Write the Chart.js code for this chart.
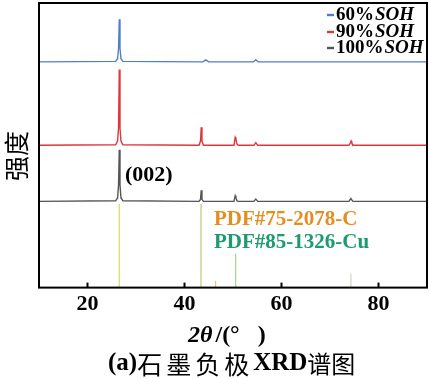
<!DOCTYPE html>
<html><head><meta charset="utf-8">
<script src="https://cdn.jsdelivr.net/npm/chart.js@4.4.1/dist/chart.umd.min.js"></script>
<style>html,body{margin:0;padding:0;background:#fff;}#wrap{width:429px;height:379px;}</style>
</head><body><div id="wrap"><canvas id="c" width="429" height="379"></canvas></div>
<script>
// ---- data ----
const seriesNames = ["60%", "90%", "100%"];
const xTicks = [20, 40, 60, 80];

const soh60X = [10, 25.8, 26.2, 26.4, 26.55, 26.7, 26.9, 27.3, 43.8, 44.4, 45.0, 54.2, 54.7, 55.2, 90];
const soh60Y = [79.3, 79.5, 80.4, 84.0, 94.3, 84.0, 80.4, 79.5, 79.3, 80.0, 79.3, 79.3, 80.1, 79.3, 79.3];

const soh90X = [10, 25.8, 26.2, 26.4, 26.55, 26.7, 26.9, 27.3, 43.0, 43.3, 43.45, 43.6, 43.9, 50.2, 50.45, 50.6, 50.8, 51.1, 54.3, 54.7, 55.1, 73.9, 74.2, 74.35, 74.5, 74.8, 90];
const soh90Y = [50.0, 50.2, 51.5, 56.0, 76.6, 56.0, 51.5, 50.2, 50.0, 51.5, 56.3, 51.5, 50.0, 50.0, 52.8, 52.2, 50.5, 50.0, 50.0, 50.9, 50.0, 50.0, 50.8, 51.5, 50.8, 50.0, 50.0];

const soh100X = [10, 25.8, 26.2, 26.4, 26.55, 26.7, 26.9, 27.3, 43.0, 43.3, 43.45, 43.6, 43.9, 50.2, 50.45, 50.6, 50.8, 51.1, 54.3, 54.7, 55.1, 73.9, 74.3, 74.7, 90];
const soh100Y = [30.3, 30.5, 31.5, 36.0, 48.4, 36.0, 31.5, 30.5, 30.3, 31.0, 34.2, 31.0, 30.3, 30.3, 32.3, 31.6, 30.5, 30.3, 30.3, 31.1, 30.3, 30.3, 31.3, 30.3, 30.3];

// reference (PDF card) stick positions and heights
const refX = [26.55, 43.4, 46.4, 50.55, 74.3];
const refTop = [29.4, 29.4, 2.4, 11.9, 4.9];

// ---- styles ----
const seriesColors = ["#4f7fc6", "#e0363b", "#555555"];
const refColors = ["#dcdc6e", "#b9d27a", "#f0c27e", "#a9d88f", "#d6d3c8"];

const toPts = (xs, ys) => xs.map((x, i) => ({x: x, y: ys[i]}));
const datasets = [];
[[soh60X, soh60Y], [soh90X, soh90Y], [soh100X, soh100Y]].forEach((s, i) => {
  datasets.push({label: seriesNames[i] + "SOH", data: toPts(s[0], s[1]), borderColor: seriesColors[i],
    borderWidth: 1.4, pointRadius: 0, tension: 0, fill: false, order: 1});
});
refX.forEach((x, i) => {
  datasets.push({label: "ref" + i, data: [{x: x, y: 0}, {x: x, y: refTop[i]}], borderColor: refColors[i],
    borderWidth: 1.3, pointRadius: 0, fill: false, order: 2});
});

const SERIF = '"Liberation Serif","Times New Roman",serif';
const CJK = '"Noto Sans CJK SC"';

const decor = {
  id: 'decor',
  afterDraw(chart) {
    const ctx = chart.ctx, a = chart.chartArea, xs = chart.scales.x;
    ctx.save();
    // frame
    ctx.strokeStyle = '#000'; ctx.lineWidth = 2;
    ctx.strokeRect(a.left, a.top, a.right - a.left, a.bottom - a.top);
    // inward ticks
    xTicks.forEach(v => {
      const px = xs.getPixelForValue(v);
      ctx.beginPath(); ctx.moveTo(px, a.bottom); ctx.lineTo(px, a.bottom - 5); ctx.stroke();
    });
    // legend
    ctx.textBaseline = 'middle'; ctx.textAlign = 'left';
    const ly = [15, 32, 48];
    seriesNames.forEach((n, i) => {
      ctx.strokeStyle = seriesColors[i]; ctx.lineWidth = 2.4;
      ctx.beginPath(); ctx.moveTo(327, ly[i]); ctx.lineTo(334, ly[i]); ctx.stroke();
      ctx.fillStyle = '#000';
      ctx.font = 'bold 19px ' + SERIF;
      ctx.fillText(n, 336, ly[i]);
      const w = ctx.measureText(n).width;
      ctx.font = 'italic bold 19px ' + SERIF;
      ctx.fillText('SOH', 336 + w + 1, ly[i]);
    });
    // annotations
    ctx.fillStyle = '#000'; ctx.font = 'bold 22px ' + SERIF;
    ctx.fillText('(002)', 125, 175);
    ctx.font = 'bold 21px ' + SERIF;
    ctx.fillStyle = '#e58e1f';
    ctx.fillText('PDF#75-2078-C', 214, 220);
    ctx.fillStyle = '#1b9b6e';
    ctx.fillText('PDF#85-1326-Cu', 214, 243);
    // x title
    ctx.fillStyle = '#000';
    ctx.font = 'italic bold 24px ' + SERIF;
    ctx.fillText('2θ', 188, 336);
    let w1 = ctx.measureText('2θ').width;
    ctx.font = 'bold 24px ' + SERIF;
    ctx.fillText('/(°   )', 188 + w1 + 3, 336);
    // y title
    ctx.save();
    ctx.translate(16, 156); ctx.rotate(-Math.PI / 2);
    ctx.textAlign = 'center';
    ctx.font = '25px ' + CJK;
    ctx.fillText('强度', 0, 0);
    ctx.restore();
    // bottom caption
    let x = 108;
    const parts = [['(a)', 'bold 25px ' + SERIF, 0], ['石墨负极', '25px ' + CJK, 4], ['XRD', 'bold 25px ' + SERIF, 0], ['谱图', '24px ' + CJK, 0]];
    parts.forEach(p => {
      ctx.font = p[1];
      for (const ch of p[0]) { ctx.fillText(ch, x, 364); x += ctx.measureText(ch).width + p[2]; }
    });
    ctx.restore();
  }
};

new Chart(document.getElementById('c'), {
  type: 'line',
  data: {datasets: datasets},
  options: {
    responsive: false, animation: false, devicePixelRatio: 1,
    layout: {padding: {left: 39, right: 2, top: 3, bottom: 57}},
    plugins: {legend: {display: false}, tooltip: {enabled: false}},
    scales: {
      x: {type: 'linear', min: 10, max: 90,
        afterBuildTicks: s => { s.ticks = xTicks.map(v => ({value: v})); },
        grid: {display: false, drawTicks: false}, border: {display: false},
        ticks: {padding: 4, color: '#000', font: {family: SERIF, size: 22, weight: 'bold'}}},
      y: {type: 'linear', min: 0, max: 100, display: false}
    }
  },
  plugins: [decor]
});
</script></body></html>
